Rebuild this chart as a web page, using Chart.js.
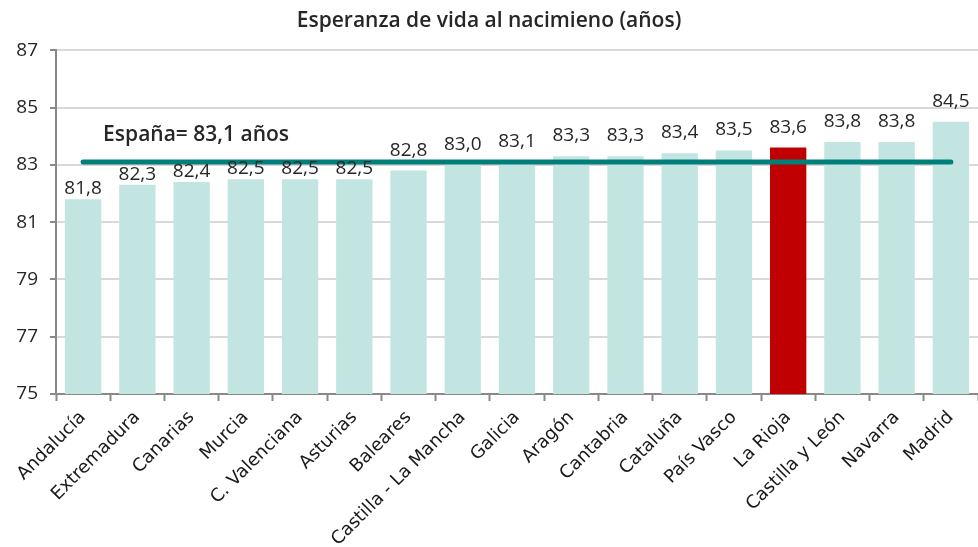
<!DOCTYPE html>
<html>
<head>
<meta charset="utf-8">
<script src="https://cdn.jsdelivr.net/npm/chart.js@4.4.1/dist/chart.umd.min.js"></script>
<style>
  html, body { margin: 0; padding: 0; background: #fff; }
  #wrap { width: 978px; height: 547px; }
</style>
</head>
<body>
<div id="wrap"><canvas id="bar-chart"></canvas></div>
<script>
const regiones = ['Andalucía', 'Extremadura', 'Canarias', 'Murcia', 'C. Valenciana', 'Asturias',
    'Baleares', 'Castilla - La Mancha', 'Galicia', 'Aragón', 'Cantabria', 'Cataluña',
    'País Vasco', 'La Rioja', 'Castilla y León', 'Navarra', 'Madrid'];
const esperanza = [81.8, 82.3, 82.4, 82.5, 82.5, 82.5, 82.8, 83.0, 83.1, 83.3, 83.3, 83.4, 83.5, 83.6, 83.8, 83.8, 84.5];
const mediaEspana = 83.1;
const etiquetaEspana = 'España= 83,1 años';
const resaltada = 'La Rioja';

const barColors = regiones.map(r => r === resaltada ? '#c00000' : '#c3e5e2');
const fmt = v => v.toFixed(1).replace('.', ',');
const fontNum = '"Open Sans", "Liberation Sans", sans-serif';

const labelsPlugin = {
    id: 'labels',
    afterDatasetsDraw(chart) {
        const ctx = chart.ctx;
        const meta = chart.getDatasetMeta(0);
        const lineY = chart.scales.y.getPixelForValue(mediaEspana);
        ctx.save();
        ctx.fillStyle = '#262626';
        ctx.font = '19px ' + fontNum;
        ctx.textAlign = 'center';
        ctx.textBaseline = 'alphabetic';
        meta.data.forEach((bar, i) => {
            // label sits well above the bar unless it would hit the average line
            let base = bar.y - 15;
            if (base > lineY - 4) base = bar.y - 5;
            ctx.fillText(fmt(esperanza[i]), bar.x, base);
        });
        const x = chart.scales.x.getPixelForValue(0) + 20;
        const y = lineY - 27;
        ctx.textAlign = 'left';
        ctx.textBaseline = 'middle';
        ctx.font = '600 21px ' + fontNum;
        ctx.fillText(etiquetaEspana, x, y);
        ctx.restore();
    }
};

const ctx = document.getElementById('bar-chart').getContext('2d');
const myChart = new Chart(ctx, {
    type: 'bar',
    data: {
        labels: regiones,
        datasets: [{
            type: 'bar',
            data: esperanza,
            backgroundColor: barColors,
            categoryPercentage: 0.67,
            barPercentage: 1,
            order: 2
        }, {
            type: 'line',
            data: regiones.map(() => mediaEspana),
            borderColor: '#007f7a',
            borderWidth: 5,
            borderCapStyle: 'round',
            pointRadius: 0,
            order: 1
        }]
    },
    options: {
        responsive: true,
        maintainAspectRatio: false,
        animation: false,
        layout: {padding: {left: 0, right: 0, top: 0, bottom: 0}},
        plugins: {
            legend: {display: false},
            tooltip: {enabled: false},
            title: {
                display: true,
                text: 'Esperanza de vida al nacimieno (años)',
                color: '#262626',
                font: {family: fontNum, size: 21, weight: '600'},
                padding: {top: 8, bottom: 17}
            }
        },
        scales: {
            x: {
                offset: true,
                grid: {
                    display: true,
                    drawOnChartArea: false,
                    drawTicks: true,
                    tickLength: 7,
                    tickWidth: 2,
                    tickColor: '#898989',
                    offset: true
                },
                border: {color: '#898989', width: 2},
                ticks: {
                    color: '#1a1a1a',
                    font: {family: '"DejaVu Sans", sans-serif', size: 18},
                    minRotation: 45,
                    maxRotation: 45,
                    autoSkip: false,
                    padding: 6
                },
                afterFit(scale) { scale.height = 153; }
            },
            y: {
                min: 75,
                max: 87,
                ticks: {
                    stepSize: 2,
                    color: '#262626',
                    font: {family: fontNum, size: 19},
                    padding: 12
                },
                grid: {
                    color: '#d9d9d9',
                    lineWidth: 2,
                    tickColor: '#898989',
                    tickLength: 6
                },
                border: {color: '#898989', width: 2},
                afterFit(scale) { scale.width = 56; }
            }
        }
    },
    plugins: [labelsPlugin]
});
</script>
</body>
</html>
